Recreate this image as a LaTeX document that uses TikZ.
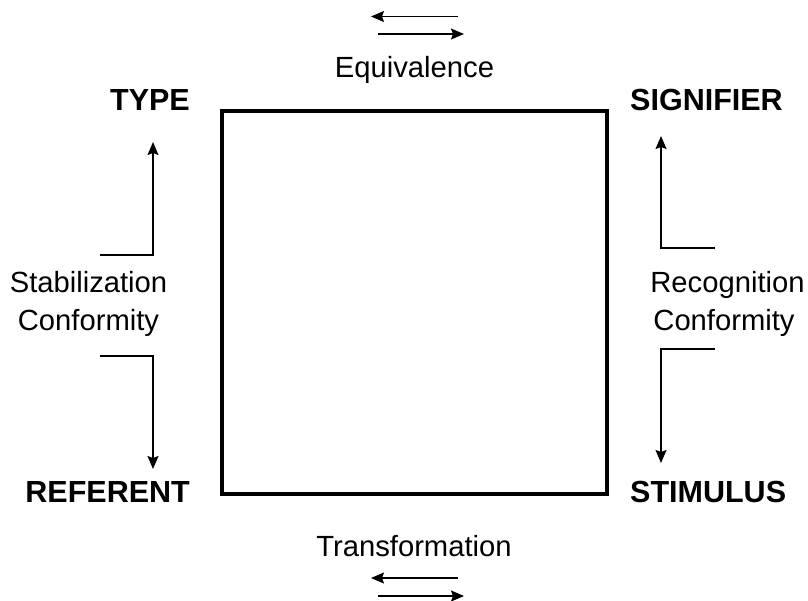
\documentclass[tikz,border=0pt]{standalone}
\usepackage{fontspec}
\setmainfont{Liberation Sans}
\usetikzlibrary{arrows.meta}
\tikzset{
  corner/.style={font=\fontsize{30.5}{34}\selectfont\bfseries, inner sep=0pt},
  caption/.style={font=\fontsize{29.2}{38}\selectfont, inner sep=0pt},
  thin arrow/.style={line width=1.4pt, -{Stealth[length=13pt,width=11pt,inset=2pt]}},
  frame/.style={line width=4pt}
}
\begin{document}
\begin{tikzpicture}[x=1pt,y=-1pt]
\useasboundingbox (0,0) rectangle (808,600);

% central square
\draw[frame] (222,111) rectangle (607,494);

% corner labels
\node[corner, anchor=base east] (type) at (190,110) {TYPE};
\node[corner, anchor=base west] (signifier) at (630,110) {SIGNIFIER};
\node[corner, anchor=base east] (referent) at (190,502) {REFERENT};
\node[corner, anchor=base west] (stimulus) at (630,502) {STIMULUS};

% side captions
\node[caption, anchor=base] (equiv) at (414.5,77) {Equivalence};
\node[caption, anchor=base] (transf) at (414,556) {Transformation};
\node[caption, anchor=base] (stab1) at (88.5,292) {Stabilization};
\node[caption, anchor=base] (stab2) at (88.5,330) {Conformity};
\node[caption, anchor=base] (rec1) at (727.5,292) {Recognition};
\node[caption, anchor=base] (rec2) at (724,330) {Conformity};

% paired arrows above and below the square
\coordinate (eqLa) at (458,16.5);  \coordinate (eqLb) at (371,16.5);
\coordinate (eqRa) at (378,34);    \coordinate (eqRb) at (464,34);
\coordinate (trLa) at (458,578);   \coordinate (trLb) at (371,578);
\coordinate (trRa) at (378,596);   \coordinate (trRb) at (464,596);
\draw[thin arrow] (eqLa) -- (eqLb);
\draw[thin arrow] (eqRa) -- (eqRb);
\draw[thin arrow] (trLa) -- (trLb);
\draw[thin arrow] (trRa) -- (trRb);

% left bent arrows
\coordinate (lu0) at (100,255); \coordinate (lu1) at (153,255); \coordinate (lu2) at (153,142);
\coordinate (ld0) at (100,356); \coordinate (ld1) at (153,356); \coordinate (ld2) at (153,469);
\draw[thin arrow] (lu0) -- (lu1) -- (lu2);
\draw[thin arrow] (ld0) -- (ld1) -- (ld2);

% right bent arrows
\coordinate (ru0) at (715,248); \coordinate (ru1) at (661,248); \coordinate (ru2) at (661,136);
\coordinate (rd0) at (715,349); \coordinate (rd1) at (661,349); \coordinate (rd2) at (661,463);
\draw[thin arrow] (ru0) -- (ru1) -- (ru2);
\draw[thin arrow] (rd0) -- (rd1) -- (rd2);
\end{tikzpicture}
\end{document}
